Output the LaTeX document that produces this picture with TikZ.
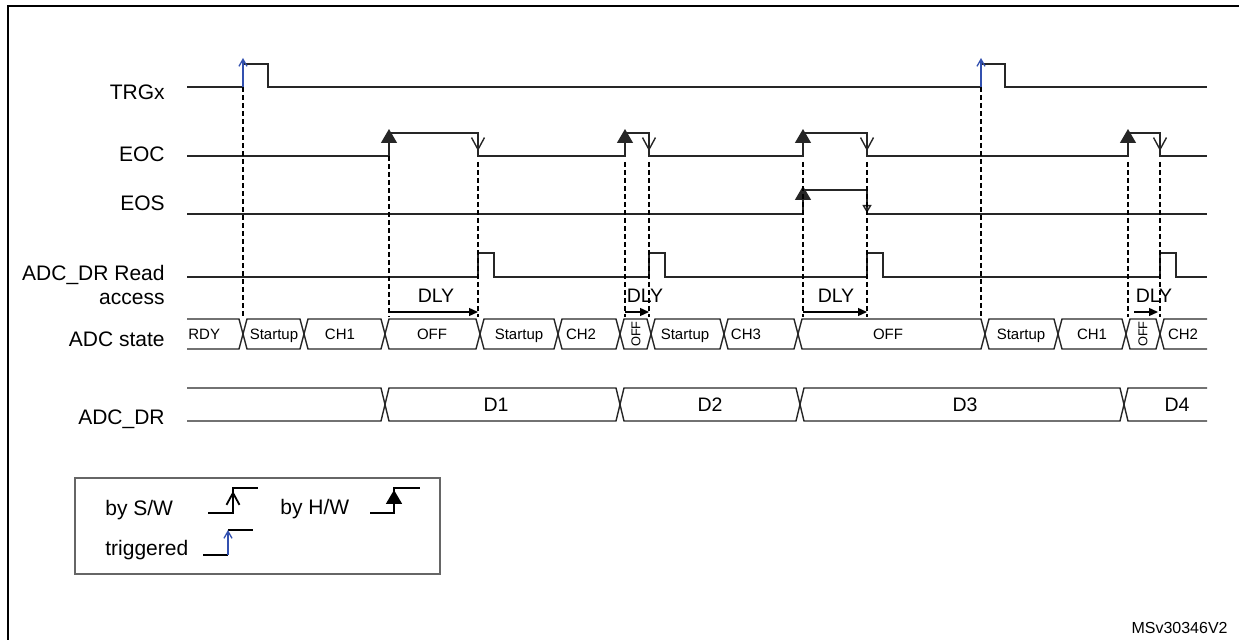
\documentclass[tikz,border=0pt]{standalone}
\usepackage{fontspec}
\setmainfont{Liberation Sans}
\usetikzlibrary{arrows.meta}
\definecolor{trgblue}{RGB}{50,80,175}

\begin{document}
\begin{tikzpicture}[x=0.5pt, y=-0.5pt,
  sig/.style={line width=0.7pt, draw=black!85},
  dsh/.style={line width=0.6pt, dash pattern=on 2.5pt off 1.5pt},
  hw/.style={-{Triangle[length=7pt,width=8pt]}},
  sw/.style={-{Straight Barb[length=6pt,width=6.5pt]}},
  trg/.style={draw=trgblue, line width=0.65pt, -{Straight Barb[length=3.5pt,width=4pt]}},
  lbl/.style={anchor=base east, inner sep=0pt, font=\fontsize{10.5}{12}\selectfont},
  bustxt/.style={anchor=base, inner sep=0pt, font=\fontsize{7.5}{9}\selectfont},
  dat/.style={anchor=base, inner sep=0pt, font=\fontsize{9.75}{11}\selectfont},
  leg/.style={line width=0.9pt}]
\path[use as bounding box] (0,0) rectangle (1239,640);
\clip (0,0) rectangle (1239,640);
\draw[line width=1.3pt] (8,660) -- (8,6) -- (1260,6);

\node[lbl] (TRG) at (165,100) {TRGx};
\node[lbl] (EOC) at (165,162) {EOC};
\node[lbl] (EOS) at (165,211) {EOS};
\node[lbl] (RD) at (165,281) {ADC\_DR Read};
\node[lbl] (ACC) at (165,305) {access};
\node[lbl] (ST) at (165,347) {ADC state};
\node[lbl] (DR) at (165,425) {ADC\_DR};

\draw[sig] (187,87) -- (243,87) (243,64) -- (268,64) -- (268,87) -- (981,87)
  (981,64) -- (1005,64) -- (1005,87) -- (1207,87);
\draw[trg] (243,87) -- (243,58);
\draw[trg] (981,87) -- (981,58);

\draw[sig] (187,156) -| (389,133) -| (478,156) -| (625,133) -| (649,156)
  -| (803,133) -| (867,156) -| (1128,133) -| (1160,156) -- (1207,156);
\foreach \x in {389,625,803,1128} \draw[sig,hw] (\x,156) -- (\x,129);
\foreach \x in {478,649,867,1160} \draw[sig,sw] (\x,133) -- (\x,151);

\draw[sig] (187,214) -| (803,190) -| (867,214) -- (1207,214);
\draw[sig,hw] (803,214) -- (803,186);
\draw[sig,-{Triangle[open,length=4pt,width=4.5pt]}] (867,190) -- (867,213);

\draw[sig] (187,277) -| (478,253) -| (494,277) -| (649,253) -| (665,277)
  -| (867,253) -| (883,277) -| (1160,253) -| (1176,277) -- (1207,277);

\foreach \x/\t in {243/87,981/87,389/156,478/162,625/162,649/162,803/162,867/162,1128/162,1160/162}
  \draw[dsh] (\x,\t) -- (\x,317);

\foreach \a/\b in {389/478,625/649,803/867,1134/1158}
  \draw[line width=0.65pt,-{Triangle[length=4.5pt,width=4pt]}] (\a,312) -- (\b,312);
\node[dat] (DLY1) at (436,303) {DLY};
\node[dat] (DLY2) at (645,303) {DLY};
\node[dat] (DLY3) at (836,303) {DLY};
\node[dat] (DLY4) at (1154,303) {DLY};

\draw[sig] (187,319) -- (239,319) -- (243,334) -- (239,349) -- (187,349);
\foreach \a/\b in {243/304,304/385,385/480,480/558,558/620,620/651,651/724,724/798,798/985,985/1058,1058/1126,1126/1160}
  \draw[sig] (\a,334) -- ({\a+4},319) -- ({\b-4},319) -- (\b,334) -- ({\b-4},349) -- ({\a+4},349) -- cycle;
\draw[sig] (1207,319) -- (1164,319) -- (1160,334) -- (1164,349) -- (1207,349);
\node[bustxt, anchor=base west] (S0) at (188,340) {RDY};
\foreach \x/\t [count=\i] in {274/Startup,340/CH1,432/OFF,519/Startup,581/CH2,685/Startup,746/CH3,888/OFF,1021/Startup,1092/CH1,1183/CH2}
  \node[bustxt] (S\i) at (\x,340) {\t};
\node[rotate=90, inner sep=0pt, font=\fontsize{6.4}{7}\selectfont] (OFF1) at (636,334) {OFF};
\node[rotate=90, inner sep=0pt, font=\fontsize{6.4}{7}\selectfont] (OFF2) at (1143,334) {OFF};

\draw[sig] (187,388) -- (381,388) -- (385,404.5) -- (381,421) -- (187,421);
\foreach \a/\b in {385/620,620/800,800/1124}
  \draw[sig] (\a,404.5) -- ({\a+4},388) -- ({\b-4},388) -- (\b,404.5) -- ({\b-4},421) -- ({\a+4},421) -- cycle;
\draw[sig] (1207,388) -- (1128,388) -- (1124,404.5) -- (1128,421) -- (1207,421);
\node[dat] (D1) at (496,412) {D1};
\node[dat] (D2) at (710,412) {D2};
\node[dat] (D3) at (965,412) {D3};
\node[dat] (D4) at (1177,412) {D4};

\draw[line width=0.6pt, draw=black!60] (75,478) rectangle (440,574);
\node[anchor=base west, inner sep=0pt, font=\fontsize{10.5}{12}\selectfont] (SW) at (105,516) {by S/W};
\node[anchor=base west, inner sep=0pt, font=\fontsize{10.5}{12}\selectfont] (HW) at (280,515) {by H/W};
\node[anchor=base west, inner sep=0pt, font=\fontsize{10.5}{12}\selectfont] (TG) at (105,556) {triggered};
\draw[leg] (208,513) -- (233,513) -- (233,488) -- (258,488);
\draw[leg,sw] (233,513) -- (233,491);
\draw[leg] (370,513) -- (394,513) -- (394,488) -- (420,488);
\draw[leg,hw] (394,513) -- (394,490);
\draw[leg] (203,555) -- (228,555) (228,530) -- (253,530);
\draw[trg] (228,555) -- (228,530);

\node[anchor=base east, inner sep=0pt, font=\fontsize{8}{9}\selectfont] (ID) at (1228,634) {MSv30346V2};
\end{tikzpicture}
\end{document}
